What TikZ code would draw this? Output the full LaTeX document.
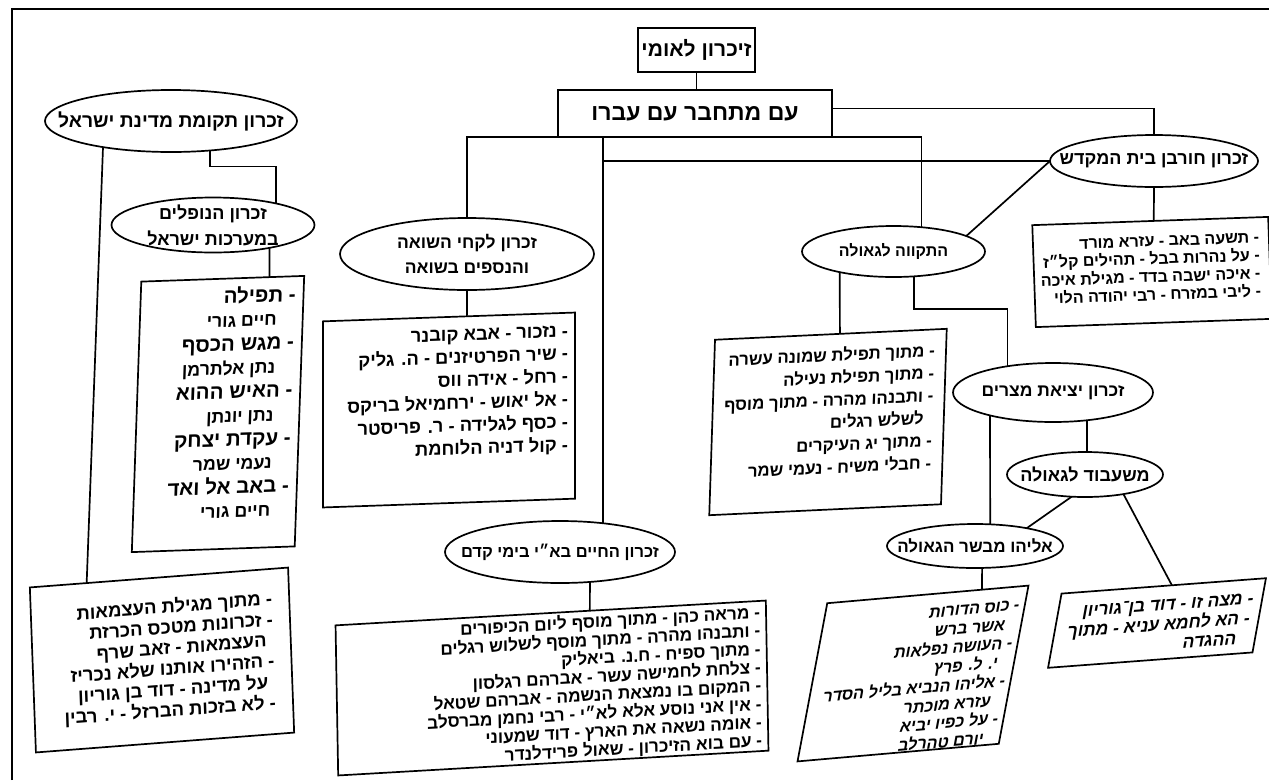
\documentclass[tikz,border=0pt]{standalone}
\usepackage{fontspec}
\usetikzlibrary{shapes.geometric,calc}
\newfontfamily\hebfont[Script=Hebrew]{Liberation Sans}
\TeXXeTstate=1
% one right-to-left line of Hebrew
\newcommand{\hebrow}[1]{\beginR#1\endR}
% size and line pitch in pt
\newcommand{\hsz}[2]{\fontsize{#1pt}{#2pt}\selectfont}

\tikzset{
  wire/.style={line width=1.7pt},
  boxframe/.style={draw, line width=1.7pt, inner sep=0pt, outer sep=0pt},
  boxtext/.style={inner sep=0pt, outer sep=0pt, align=right, anchor=east},
  oval/.style={ellipse, draw, line width=1.7pt, inner sep=0pt, outer sep=0pt},
  ovaltext/.style={inner sep=0pt, outer sep=0pt, align=center},
}

\begin{document}
\begin{tikzpicture}[x=1pt, y=-1pt, font=\hebfont\bfseries]
\useasboundingbox (0,0) rectangle (1269,780);
\fill[white] (0,0) rectangle (1269,780);
% page rule along the top and the left
\draw[wire] (12,780) -- (12,9) -- (1269,9);

% ---- root ----
\node[boxframe, minimum width=117pt, minimum height=44pt, font=\hebfont\bfseries\hsz{21}{24}] (T) at (696.5,50) {\hebrow{זיכרון לאומי}};
\node[boxframe, minimum width=274pt, minimum height=47pt, font=\hebfont\bfseries\hsz{23}{25}] (M) at (695,113.5) {\hebrow{עם מתחבר עם עברו}};

% ---- ovals ----
\node[oval, minimum width=252pt, minimum height=62pt] (E1) at (171,121) {};
\node[ovaltext, font=\hebfont\bfseries\hsz{19.3}{21}] (E1t) at (E1) {\hebrow{זכרון תקומת מדינת ישראל}};

\node[oval, minimum width=203pt, minimum height=55pt] (E2) at (213,225) {};
\node[ovaltext, font=\hebfont\bfseries\hsz{18}{26}] (E2t) at (E2) {\hebrow{זכרון הנופלים}\\\hebrow{במערכות ישראל}};

\node[oval, minimum width=254pt, minimum height=72pt] (E3) at (467,254) {};
\node[ovaltext, font=\hebfont\bfseries\hsz{17.5}{25}] (E3t) at (E3) {\hebrow{זכרון לקחי השואה}\\\hebrow{והנספים בשואה}};

\node[oval, minimum width=230pt, minimum height=62pt] (E4) at (560,552) {};
\node[ovaltext, font=\hebfont\bfseries\hsz{16.5}{21}] (E4t) at (E4) {\hebrow{זכרון החיים בא״י בימי קדם}};

\node[oval, minimum width=183pt, minimum height=51pt] (E5) at (893.5,251.5) {};
\node[ovaltext, font=\hebfont\bfseries\hsz{16}{21}] (E5t) at (E5) {\hebrow{התקווה לגאולה}};

\node[oval, minimum width=200pt, minimum height=59pt] (E6) at (1053,392.5) {};
\node[ovaltext, font=\hebfont\bfseries\hsz{17.5}{21}] (E6t) at (E6) {\hebrow{זכרון יציאת מצרים}};

\node[oval, minimum width=156pt, minimum height=45pt] (E7) at (1085,474.5) {};
\node[ovaltext, font=\hebfont\bfseries\hsz{18}{21}] (E7t) at (E7) {\hebrow{משעבוד לגאולה}};

\node[oval, minimum width=176pt, minimum height=44pt] (E8) at (975,546) {};
\node[ovaltext, font=\hebfont\bfseries\hsz{17}{21}] (E8t) at (E8) {\hebrow{אליהו מבשר הגאולה}};

\node[oval, minimum width=208pt, minimum height=52pt] (E9) at (1154,161) {};
\node[ovaltext, font=\hebfont\bfseries\hsz{18}{21}] (E9t) at (E9) {\hebrow{זכרון חורבן בית המקדש}};

% ---- boxes ----
\node[boxframe, minimum width=163pt, minimum height=270pt, rotate=2, xslant=0.07] (B1) at (218,414) {};
\node[boxtext, rotate=2, xslant=0.07, font=\hebfont\bfseries\hsz{20.5}{23.8}] (B1t) at (292,400) {%
\hebrow{- תפילה}\\
{\hsz{17.8}{23.8}\hebrow{\hspace*{18pt}חיים גורי}}\\
\hebrow{- מגש הכסף}\\
{\hsz{17.8}{23.8}\hebrow{\hspace*{18pt}נתן אלתרמן}}\\
\hebrow{- האיש ההוא}\\
{\hsz{17.8}{23.8}\hebrow{\hspace*{18pt}נתן יונתן}}\\
\hebrow{- עקדת יצחק}\\
{\hsz{17.8}{23.8}\hebrow{\hspace*{18pt}נעמי שמר}}\\
\hebrow{- באב אל ואד}\\
{\hsz{17.8}{23.8}\hebrow{\hspace*{18pt}חיים גורי}}};

\node[boxframe, minimum width=259pt, minimum height=165pt, rotate=4.4, xslant=0.04] (B2) at (162,660) {};
\node[boxtext, rotate=4.4, xslant=0.04, font=\hebfont\bfseries\hsz{18.5}{20.7}] (B2t) at (274,651) {%
\hebrow{- מתוך מגילת העצמאות}\\
\hebrow{- זכרונות מטכס הכרזת}\\
\hebrow{\hspace*{7pt}העצמאות - זאב שרף}\\
\hebrow{- הזהירו אותנו שלא נכריז}\\
\hebrow{\hspace*{7pt}על מדינה - דוד בן גוריון}\\
\hebrow{- לא בזכות הברזל - י. רבין}};

\node[boxframe, minimum width=252pt, minimum height=186pt, rotate=2, xslant=0.035] (B3) at (449,410) {};
\node[boxtext, rotate=2, xslant=0.035, font=\hebfont\bfseries\hsz{18.3}{22.8}] (B3t) at (568,390) {%
\hebrow{- נזכור - אבא קובנר}\\
\hebrow{- שיר הפרטיזנים - ה. גליק}\\
\hebrow{- רחל - אידה ווס}\\
\hebrow{- אל יאוש - ירחמיאל בריקס}\\
\hebrow{- כסף לגלידה - ר. פריסטר}\\
\hebrow{- קול דניה הלוחמת}};

\node[boxframe, minimum width=431pt, minimum height=150pt, rotate=3.3, xslant=0.04] (B4) at (552,688) {};
\node[boxtext, rotate=3.3, xslant=0.04, font=\hebfont\bfseries\hsz{17.2}{18.3}] (B4t) at (761,677) {%
\hebrow{- מראה כהן - מתוך מוסף ליום הכיפורים}\\
\hebrow{- ותבנהו מהרה - מתוך מוסף לשלוש רגלים}\\
\hebrow{- מתוך ספיח - ח.נ. ביאליק}\\
\hebrow{- צלחת לחמישה עשר - אברהם רגלסון}\\
\hebrow{- המקום בו נמצאת הנשמה - אברהם שטאל}\\
\hebrow{- אין אני נוסע אלא לא״י - רבי נחמן מברסלב}\\
\hebrow{- אומה נשאה את הארץ - דוד שמעוני}\\
\hebrow{- עם בוא הזיכרון - שאול פרידלנדר}};

\node[boxframe, minimum width=232pt, minimum height=175pt, rotate=2.7, xslant=0.08] (B5) at (828,422) {};
\node[boxtext, rotate=2.7, xslant=0.08, font=\hebfont\bfseries\hsz{16.8}{22.4}] (B5t) at (933,406) {%
\hebrow{- מתוך תפילת שמונה עשרה}\\
\hebrow{- מתוך תפילת נעילה}\\
\hebrow{- ותבנהו מהרה - מתוך מוסף}\\
\hebrow{\hspace*{9pt}לשלש רגלים}\\
\hebrow{- מתוך יג העיקרים}\\
\hebrow{- חבלי משיח - נעמי שמר}};

\node[boxframe, minimum width=202pt, minimum height=155pt, rotate=5, xslant=0.28] (B6) at (913,673.5) {};
\node[boxtext, rotate=5, xslant=0.28, font=\hebfont\bfseries\hsz{16.2}{18.6}] (B6t) at (1007,672) {%
\hebrow{- כוס הדורות}\\
\hebrow{\hspace*{11pt}אשר ברש}\\
\hebrow{- העושה נפלאות}\\
\hebrow{\hspace*{11pt}י. ל. פרץ}\\
\hebrow{- אליהו הנביא בליל הסדר}\\
\hebrow{\hspace*{11pt}עזרא מוכתר}\\
\hebrow{- על כפיו יביא}\\
\hebrow{\hspace*{11pt}יורם טהרלב}};

\node[boxframe, minimum width=205pt, minimum height=73pt, rotate=4.3, xslant=0.26] (B7) at (1157,623) {};
\node[boxtext, rotate=4.3, xslant=0.26, font=\hebfont\bfseries\hsz{17.5}{19.6}] (B7t) at (1250,618) {%
\hebrow{- מצה זו - דוד בן־גוריון}\\
\hebrow{- הא לחמא עניא - מתוך}\\
\hebrow{\hspace*{10pt}ההגדה}};

\node[boxframe, minimum width=236pt, minimum height=102pt, rotate=2] (B8) at (1152,272) {};
\node[boxtext, rotate=2, font=\hebfont\bfseries\hsz{16}{18}] (B8t) at (1260,265) {%
\hebrow{- תשעה באב - עזרא מורד}\\
\hebrow{- על נהרות בבל - תהילים קל״ז}\\
\hebrow{- איכה ישבה בדד - מגילת איכה}\\
\hebrow{- ליבי במזרח - רבי יהודה הלוי}};

% ---- connectors ----
\coordinate (bus) at (603,137);
\draw[wire] (T.south) -- (T.south |- M.north);
\draw[wire] ([yshift=5pt]M.east) -| (E9.north);
\draw[wire] (E3.north) -- (E3.north |- M.south) -- (E5.41 |- M.south) -- (E5.41);
\draw[wire] (bus) -- (bus |- E4.34);
\draw[wire] (bus |- E9.west) -- (E9.west);
\draw[wire] (E9.west) -- (E5.12);
\draw[wire] (E9.south) -- ($(B8.north west)!0.515!(B8.north east)$);
\draw[wire] (E1.-37) -- ++(0,16) -| (E2.19);
\draw[wire] (E2.-22) -- ($(B1.north west)!0.787!(B1.north east)$);
\draw[wire] (E1.201) -- ($(B2.north west)!0.22!(B2.north east)$);
\draw[wire] (E3.south) -- ($(B3.north west)!0.571!(B3.north east)$);
\draw[wire] (E4.-45) -- ($(B4.north west)!0.591!(B4.north east)$);
\draw[wire] (E5.201) -- ($(B5.north west)!0.539!(B5.north east)$);
\draw[wire] (E5.-50) -- ++(0,33) -| (E6.150);
\draw[wire] (E6.-39) -- (E6.-39 |- E7.north);
\draw[wire] (E6.200) -- (E8.55);
\draw[wire] (E7.-121) -- (E8.19);
\draw[wire] (E7.-27) -- ($(B7.north west)!0.54!(B7.north east)$);
\draw[wire] (E8.-72) -- ($(B6.north west)!0.769!(B6.north east)$);
\end{tikzpicture}
\end{document}
